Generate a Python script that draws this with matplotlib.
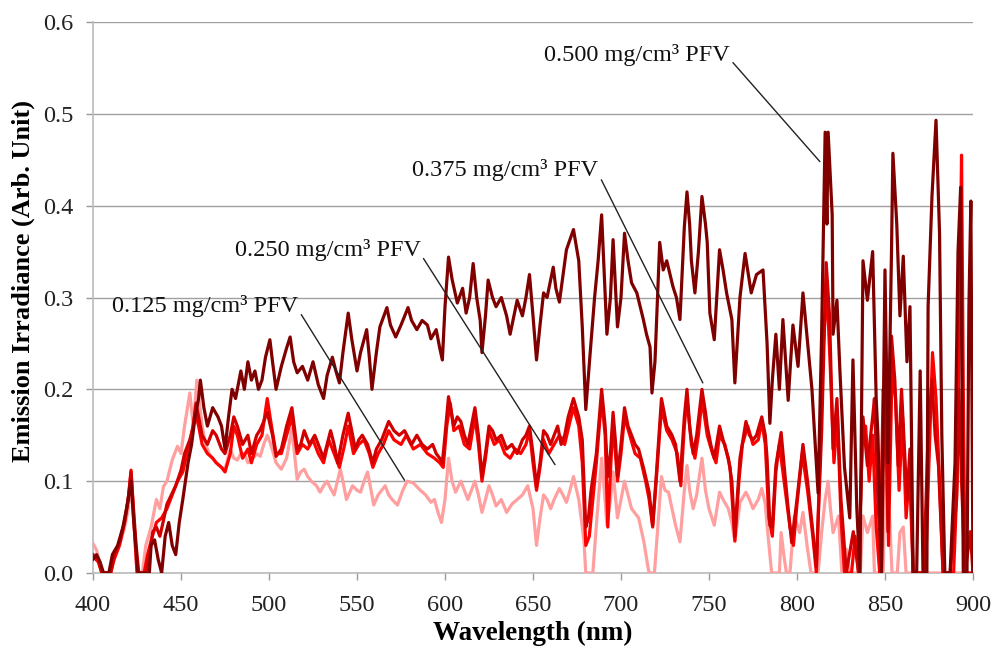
import matplotlib
matplotlib.use("Agg")
import matplotlib.pyplot as plt

plt.rcParams['font.family'] = ['Liberation Serif', 'DejaVu Serif']

# ---------------- data ----------------
wl_500 = [400, 402, 404, 406, 409, 411, 414, 417, 419, 421.6, 423, 425.5, 432, 433, 435, 437, 439, 441, 443, 445,
          447, 449, 451, 454, 456, 458, 460, 461, 463, 465, 468, 471, 473, 475, 477, 479, 481, 484, 486, 488,
          490, 492, 494, 496, 498, 500.5, 502, 504, 507, 510, 512, 514, 516, 519, 522, 525, 528, 531, 533, 536,
          538, 540, 542, 545, 547, 550, 552, 555.5, 557, 558.5, 561, 563, 567, 569, 572, 575, 579, 581, 584, 587,
          590, 592, 595, 597, 598.5, 600, 602, 604, 607, 610, 612, 614, 616, 618, 620, 621, 623, 624.5, 627, 629,
          632, 635, 637, 641, 644, 646, 648, 650, 652, 654, 656, 658, 661.5, 663, 665, 669, 673, 676, 678, 680,
          682.5, 685, 687, 689, 692, 694, 695.5, 698, 700, 702, 704, 706, 709, 712.7, 714.5, 716.5, 717.6, 719.3, 722, 724,
          726, 729.5, 731.5, 733.5, 736, 737.5, 739, 740, 742, 744, 746, 748, 749, 750.5, 753, 756, 758, 760, 763, 764.7,
          767.6, 770.5, 774, 777, 780.7, 783, 784.6, 786, 788, 790, 792, 795, 797.7, 800.6, 803.4, 805.6, 808.5, 810, 812, 814,
          816, 817, 817.7, 819, 820, 820.5, 822.7, 824.4, 827, 830, 831.8, 834, 835.8, 837.5, 840, 843, 845, 846, 848, 850,
          851.7, 853.7, 854.5, 856.7, 858.5, 860.4, 862.5, 864.2, 866, 868, 870, 871.6, 873.8, 874.5, 876.7, 879, 881, 882.3, 884, 887,
          889.8, 891.5, 893, 894.5, 896.6, 897.7, 898.8, 900]
val_500 = [0.015, 0.02, 0.012, 0.0, 0.0, 0.02, 0.03, 0.05, 0.07, 0.10, 0.06, 0.0, 0.0, 0.03, 0.036, 0.015, 0.0, 0.04, 0.055, 0.03,
           0.02, 0.055, 0.08, 0.12, 0.14, 0.17, 0.19, 0.21, 0.18, 0.16, 0.18, 0.17, 0.16, 0.135, 0.17, 0.2, 0.19, 0.22, 0.2, 0.23,
           0.21, 0.22, 0.2, 0.21, 0.235, 0.254, 0.23, 0.2, 0.225, 0.245, 0.257, 0.23, 0.218, 0.225, 0.21, 0.23, 0.205, 0.19, 0.215, 0.235,
           0.22, 0.207, 0.24, 0.283, 0.255, 0.22, 0.24, 0.265, 0.235, 0.2, 0.24, 0.268, 0.289, 0.27, 0.257, 0.27, 0.289, 0.275, 0.265, 0.275,
           0.27, 0.255, 0.265, 0.245, 0.232, 0.29, 0.344, 0.32, 0.294, 0.31, 0.283, 0.3, 0.337, 0.3, 0.275, 0.24, 0.28, 0.319, 0.3, 0.29,
           0.3, 0.28, 0.26, 0.297, 0.28, 0.3, 0.325, 0.28, 0.232, 0.27, 0.305, 0.3, 0.333, 0.31, 0.295, 0.352, 0.374, 0.34, 0.268, 0.178,
           0.24, 0.3, 0.34, 0.39, 0.26, 0.3, 0.363, 0.268, 0.3, 0.37, 0.34, 0.316, 0.305, 0.276, 0.26, 0.246, 0.196, 0.23, 0.36, 0.33,
           0.34, 0.312, 0.3, 0.276, 0.377, 0.415, 0.38, 0.34, 0.305, 0.35, 0.41, 0.38, 0.36, 0.283, 0.254, 0.352, 0.33, 0.305, 0.276, 0.207,
           0.3, 0.348, 0.305, 0.325, 0.33, 0.25, 0.163, 0.21, 0.26, 0.2, 0.276, 0.188, 0.27, 0.225, 0.305, 0.26, 0.2, 0.152, 0.087, 0.26,
           0.48, 0.38, 0.48, 0.43, 0.39, 0.26, 0.297, 0.22, 0.115, 0.06, 0.232, 0.07, 0.0, 0.34, 0.297, 0.35, 0.19, 0.15, 0.0, 0.33,
           0.12, 0.35, 0.457, 0.38, 0.28, 0.345, 0.23, 0.29, 0.0, 0.0, 0.22, 0.0, 0.0, 0.29, 0.41, 0.493, 0.37, 0.15, 0.0, 0.0,
           0.12, 0.35, 0.42, 0.0, 0.0, 0.29, 0.405, 0.0]

wl_375 = [400, 403, 405, 410, 412, 415, 418, 420, 421.6, 423, 424.5, 426, 430, 432, 434, 436, 438, 440, 442, 445,
          447, 450, 452, 455, 457, 458.5, 460, 462, 465, 468, 470, 473, 475, 478, 480, 482, 485, 488, 490, 493,
          495, 497, 499, 502, 504, 507, 510, 513, 516, 518, 520, 523, 526, 529, 531, 533, 535, 537, 539, 542,
          545, 547, 549, 551, 553, 556, 559, 561, 564, 568, 571, 574, 577, 581, 584, 587, 590, 593, 595, 597,
          598.5, 600, 602, 605, 607, 609, 611, 613, 615, 617, 619, 621, 623, 625, 627, 629, 632, 635, 638, 641,
          644, 646, 648, 650, 652, 654, 656, 658, 660, 662, 664, 666, 668, 670, 673, 676, 678, 680, 681.5, 683,
          686, 689, 691, 692.5, 694, 695.5, 697, 698, 700, 702, 704, 706, 708, 710, 713, 716, 718, 720, 723, 725,
          726, 729, 731, 733.5, 736, 737.5, 739, 741, 743, 746, 748, 749, 751, 753, 756, 758, 761, 763, 764.7, 766,
          767.6, 771, 773, 775, 777, 780, 782, 783, 784.6, 786, 788, 791, 793.5, 795, 797, 800, 803.4, 806, 809, 811,
          814, 816.6, 818.5, 820.5, 822.7, 825, 828, 832, 835, 837.5, 840, 843, 844, 846, 848, 850, 851.7, 853.7, 855.6, 857.5,
          859.4, 862.5, 864.2, 866, 870, 872, 874.5, 876.7, 878.5, 880.4, 883, 887, 890.7, 892, 893.5, 895.5, 898.5, 900]
val_375 = [0.02, 0.015, 0.0, 0.0, 0.02, 0.033, 0.057, 0.08, 0.11, 0.07, 0.03, 0.0, 0.0, 0.02, 0.045, 0.05, 0.04, 0.057, 0.075, 0.087,
           0.095, 0.112, 0.13, 0.145, 0.16, 0.185, 0.17, 0.15, 0.14, 0.155, 0.15, 0.135, 0.13, 0.15, 0.17, 0.16, 0.14, 0.15, 0.13, 0.15,
           0.156, 0.165, 0.175, 0.15, 0.127, 0.135, 0.16, 0.18, 0.135, 0.14, 0.155, 0.14, 0.15, 0.135, 0.125, 0.14, 0.155, 0.14, 0.12, 0.15,
           0.174, 0.155, 0.135, 0.145, 0.15, 0.14, 0.12, 0.135, 0.145, 0.165, 0.155, 0.15, 0.155, 0.14, 0.15, 0.14, 0.135, 0.14, 0.13, 0.125,
           0.12, 0.15, 0.192, 0.16, 0.17, 0.165, 0.15, 0.14, 0.16, 0.18, 0.15, 0.105, 0.13, 0.16, 0.155, 0.145, 0.15, 0.135, 0.14, 0.13,
           0.145, 0.15, 0.16, 0.13, 0.094, 0.12, 0.155, 0.15, 0.14, 0.15, 0.16, 0.14, 0.15, 0.17, 0.19, 0.17, 0.145, 0.05, 0.06, 0.09,
           0.13, 0.2, 0.16, 0.105, 0.13, 0.175, 0.14, 0.105, 0.14, 0.18, 0.16, 0.15, 0.14, 0.135, 0.113, 0.088, 0.052, 0.105, 0.19, 0.17,
           0.16, 0.15, 0.14, 0.1, 0.17, 0.2, 0.16, 0.13, 0.15, 0.2, 0.175, 0.16, 0.14, 0.125, 0.16, 0.145, 0.125, 0.1, 0.04, 0.08,
           0.125, 0.165, 0.15, 0.145, 0.15, 0.17, 0.15, 0.125, 0.052, 0.05, 0.117, 0.153, 0.1, 0.07, 0.033, 0.08, 0.14, 0.1, 0.045, 0.007,
           0.153, 0.338, 0.28, 0.135, 0.19, 0.08, 0.0, 0.045, 0.0, 0.17, 0.117, 0.17, 0.19, 0.08, 0.0, 0.232, 0.045, 0.258, 0.21, 0.117,
           0.2, 0.08, 0.135, 0.0, 0.0, 0.0, 0.15, 0.21, 0.15, 0.117, 0.0, 0.0, 0.08, 0.2, 0.1, 0.0, 0.045, 0.0]

wl_250 = [400, 403, 405, 410, 412, 415, 418, 420, 421.6, 423, 425, 429, 431, 433, 436, 439, 442, 445, 448, 451,
          454, 456, 458, 460, 462, 465, 468, 470, 473, 475, 478, 480, 482, 485, 488, 490, 493, 496, 499, 501,
          504, 507, 510, 513, 516, 519, 522, 525, 528, 531, 534, 537, 540, 543, 545, 548, 551, 554, 557, 559,
          562, 565, 568, 571, 575, 578, 582, 586, 590, 594, 597, 599, 601, 603, 605, 608, 611, 614, 617, 619,
          621, 623, 625, 628, 631, 634, 637, 640, 643, 646, 648, 650, 652, 654, 656, 659, 662, 665, 668, 671,
          673, 676, 678, 680, 682, 684, 686, 689, 691, 692.5, 694, 695.5, 698, 700, 702, 705, 708, 711, 714, 716,
          718, 720, 723, 726, 729, 732, 734, 736, 737.5, 740, 742, 744, 746, 749, 752, 754, 756, 759, 762, 764.7,
          767, 769, 772, 775, 778, 780, 782, 784, 786, 788, 790, 793, 796, 798, 800, 803, 806, 809, 811, 813,
          815, 817, 819, 821, 823, 825, 827, 831, 833, 835, 837, 839, 841, 843, 845, 847, 849, 850.5, 852, 854,
          856, 858, 860, 862, 864, 866, 873, 875, 877, 879, 881, 883, 889, 891, 892.5, 893.5, 894.5, 895.5, 900]
val_250 = [0.018, 0.012, 0.0, 0.0, 0.015, 0.03, 0.055, 0.08, 0.112, 0.065, 0.0, 0.0, 0.02, 0.035, 0.055, 0.06, 0.07, 0.085, 0.1, 0.11,
           0.135, 0.15, 0.175, 0.16, 0.14, 0.13, 0.125, 0.12, 0.115, 0.11, 0.13, 0.16, 0.15, 0.125, 0.135, 0.12, 0.14, 0.15, 0.19, 0.165,
           0.13, 0.13, 0.15, 0.17, 0.13, 0.14, 0.135, 0.145, 0.13, 0.12, 0.145, 0.13, 0.115, 0.14, 0.16, 0.13, 0.14, 0.145, 0.13, 0.115,
           0.13, 0.14, 0.155, 0.145, 0.14, 0.15, 0.135, 0.14, 0.13, 0.125, 0.12, 0.115, 0.16, 0.185, 0.155, 0.16, 0.14, 0.135, 0.17, 0.14,
           0.1, 0.125, 0.155, 0.14, 0.145, 0.13, 0.125, 0.135, 0.13, 0.14, 0.155, 0.12, 0.09, 0.115, 0.145, 0.13, 0.14, 0.15, 0.14, 0.165,
           0.18, 0.16, 0.12, 0.03, 0.04, 0.08, 0.12, 0.19, 0.15, 0.05, 0.11, 0.165, 0.1, 0.13, 0.17, 0.15, 0.13, 0.125, 0.1, 0.08,
           0.05, 0.1, 0.18, 0.155, 0.145, 0.13, 0.095, 0.16, 0.19, 0.14, 0.125, 0.15, 0.19, 0.15, 0.13, 0.12, 0.15, 0.14, 0.115, 0.035,
           0.1, 0.14, 0.16, 0.14, 0.145, 0.165, 0.14, 0.06, 0.04, 0.11, 0.14, 0.095, 0.05, 0.03, 0.075, 0.13, 0.09, 0.04, 0.0, 0.12,
           0.25, 0.31, 0.22, 0.12, 0.17, 0.06, 0.0, 0.0, 0.04, 0.0, 0.14, 0.16, 0.1, 0.15, 0.05, 0.0, 0.2, 0.17, 0.03, 0.22,
           0.19, 0.09, 0.17, 0.06, 0.11, 0.0, 0.0, 0.12, 0.24, 0.19, 0.1, 0.0, 0.0, 0.1, 0.3, 0.455, 0.2, 0.0, 0.0]

wl_125 = [400, 402, 404, 405, 410, 412, 415, 418, 420, 421.6, 423, 425, 428, 430, 433, 436, 438, 440, 442, 445,
          448, 450, 452, 455, 457, 459, 460.5, 462, 464, 466, 468, 470, 473, 475, 478, 480, 482, 484, 486, 488,
          490, 493, 495, 497, 499, 501, 504, 507, 510, 513, 516, 518, 520, 522, 524, 527, 529, 531, 533, 535,
          537, 540.5, 542, 544, 547.5, 550, 552, 554, 556, 558, 559.5, 562, 564, 566, 568, 570, 573, 576, 578.5, 582,
          586, 589, 592, 594, 596, 598, 600, 602, 604, 606, 609, 611, 613, 615, 617, 619, 621, 623, 625, 627,
          629, 632, 635, 638, 641, 644, 647, 650, 652, 654, 656, 658, 660, 662, 665, 667, 669, 671, 673, 676,
          678, 679, 680, 684, 686, 689, 690.5, 692, 694, 695.5, 697, 698, 700, 702, 704, 706, 708, 710, 713, 715,
          716, 719, 721, 723, 725, 727, 729, 731, 733.5, 736, 737.5, 739, 741, 743, 746, 748, 750, 753, 756, 758,
          761, 763, 764.7, 767.6, 771, 773, 775, 778, 780, 782, 783, 785.6, 790, 791, 792.5, 794, 796, 798.5, 801.5, 803.4,
          806, 808, 812, 814, 816, 817.7, 819, 820.5, 823.6, 825.5, 828, 830, 836, 837.5, 840, 843, 844, 849, 850, 851.5,
          852.6, 854, 857, 858.5, 860.4, 862, 900]
val_125 = [0.032, 0.025, 0.01, 0.0, 0.0, 0.015, 0.03, 0.05, 0.07, 0.1, 0.06, 0.0, 0.0, 0.03, 0.05, 0.08, 0.07, 0.094, 0.1, 0.123,
           0.138, 0.13, 0.16, 0.196, 0.16, 0.21, 0.185, 0.16, 0.14, 0.13, 0.125, 0.12, 0.115, 0.113, 0.135, 0.125, 0.123, 0.13, 0.13, 0.12,
           0.123, 0.13, 0.127, 0.14, 0.15, 0.14, 0.12, 0.113, 0.125, 0.157, 0.102, 0.11, 0.113, 0.105, 0.1, 0.095, 0.088, 0.095, 0.1, 0.092,
           0.085, 0.113, 0.1, 0.08, 0.095, 0.09, 0.088, 0.1, 0.11, 0.09, 0.074, 0.085, 0.09, 0.095, 0.085, 0.08, 0.074, 0.09, 0.1, 0.098,
           0.09, 0.085, 0.077, 0.08, 0.066, 0.055, 0.08, 0.125, 0.1, 0.088, 0.1, 0.09, 0.08, 0.09, 0.1, 0.085, 0.066, 0.08, 0.095, 0.085,
           0.073, 0.08, 0.066, 0.075, 0.08, 0.085, 0.095, 0.07, 0.03, 0.06, 0.085, 0.08, 0.07, 0.08, 0.092, 0.085, 0.077, 0.09, 0.105, 0.08,
           0.05, 0.034, 0.0, 0.0, 0.052, 0.125, 0.09, 0.052, 0.08, 0.11, 0.08, 0.06, 0.08, 0.1, 0.085, 0.07, 0.065, 0.06, 0.034, 0.01,
           0.0, 0.0, 0.052, 0.105, 0.09, 0.088, 0.07, 0.052, 0.034, 0.09, 0.117, 0.09, 0.07, 0.085, 0.125, 0.09, 0.07, 0.052, 0.088, 0.08,
           0.07, 0.055, 0.034, 0.077, 0.088, 0.08, 0.07, 0.08, 0.092, 0.075, 0.052, 0.0, 0.0, 0.044, 0.02, 0.0, 0.0, 0.062, 0.044, 0.066,
           0.026, 0.0, 0.0, 0.044, 0.08, 0.1, 0.07, 0.044, 0.062, 0.0, 0.026, 0.0, 0.0, 0.062, 0.044, 0.062, 0.0, 0.0, 0.1, 0.08,
           0.06, 0.0, 0.0, 0.044, 0.05, 0.0, 0.0]

series_labels = ["0.125 mg/cm³ PFV", "0.250 mg/cm³ PFV", "0.375 mg/cm³ PFV", "0.500 mg/cm³ PFV"]
series_colors = ["#FF9F9F", "#FF0000", "#D00000", "#800000"]
# annotation anchor points on the curves, and label positions
anno_xy = [(577, 0.101), (662.5, 0.118), (746.5, 0.207), (813, 0.448)]
anno_text = [(411, 0.291), (480.5, 0.352), (581.5, 0.439), (656.5, 0.564)]

x_ticks = [400, 450, 500, 550, 600, 650, 700, 750, 800, 850, 900]
y_ticks = [0.0, 0.1, 0.2, 0.3, 0.4, 0.5, 0.6]

# ---------------- figure ----------------
fig = plt.figure(figsize=(9.97, 6.55), dpi=100)
ax = fig.add_axes([0.0933, 0.1252, 0.8826, 0.8412])

xs = [wl_125, wl_250, wl_375, wl_500]
ys = [val_125, val_250, val_375, val_500]
for x, y, c in zip(xs, ys, series_colors):
    ax.plot(x, y, color=c, lw=2.3, solid_joinstyle='round', zorder=3)

for lab, xy, xt in zip(series_labels, anno_xy, anno_text):
    ax.annotate(lab, xy=xy, xytext=xt, textcoords='data', fontsize=17.5,
                ha='left', va='center', color='#111111', zorder=5,
                arrowprops=dict(arrowstyle='-', color='#222222', lw=1.0,
                                shrinkA=0, shrinkB=0, relpos=(1.0, 0.3)))

ax.set_xlim(400, 900)
ax.set_ylim(0, 0.6)
ax.set_xticks(x_ticks)
ax.set_yticks(y_ticks)
ax.set_yticklabels([f"{v:.1f}" for v in y_ticks])
ax.tick_params(axis='both', labelsize=17.5, colors='#999999', labelcolor='#222222',
               direction='out', length=5, width=1)
ax.tick_params(axis='y', pad=9)
ax.tick_params(axis='x', pad=11)
ax.grid(axis='y', color='#A0A0A0', lw=1.0, zorder=0)
ax.set_axisbelow(True)
for s in ['top', 'right']:
    ax.spines[s].set_visible(False)
for s in ['left', 'bottom']:
    ax.spines[s].set_color('#BBBBBB')
    ax.spines[s].set_linewidth(1.2)

ax.set_xlabel("Wavelength (nm)", fontsize=19.5, fontweight='bold', labelpad=3)
ax.set_ylabel("Emission Irradiance (Arb. Unit)", fontsize=19, fontweight='bold', labelpad=6)
ax.yaxis.set_label_coords(-0.066, 0.53)

fig.savefig("out.png", dpi=100)
